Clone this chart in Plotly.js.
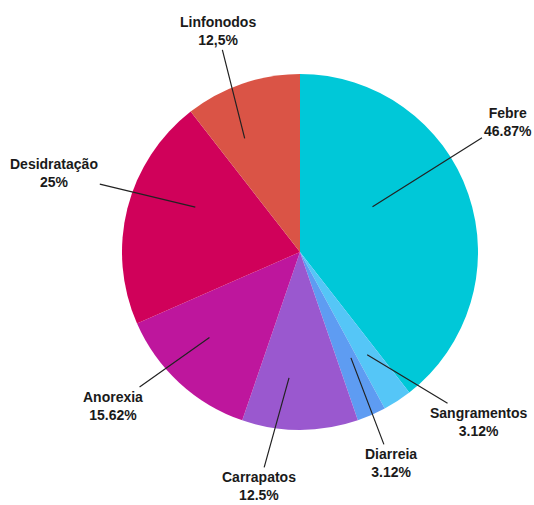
<!DOCTYPE html>
<html>
<head>
<meta charset="utf-8">
<script src="https://cdn.plot.ly/plotly-3.0.1.min.js"></script>
<style>html,body{margin:0;padding:0;background:#fff;}#chart{width:534px;height:505px;}</style>
</head>
<body>
<div id="chart"></div>
<script>
// Data
const categories = ["Febre", "Sangramentos", "Diarreia", "Carrapatos", "Anorexia", "Desidratação", "Linfonodos"];
const values = [46.87, 3.12, 3.12, 12.5, 15.62, 25, 12.5];
const valueLabels = ["46.87%", "3.12%", "3.12%", "12.5%", "15.62%", "25%", "12,5%"];

// Style
const colors = ["#00C8D8", "#55C6F7", "#5E9CF2", "#9A58CF", "#BE169D", "#D0015A", "#DA5446"];
const tipShift = [-13, 0, -2, 5, 4, 9, -7];      // degrees
const tipRadius = [0.48, 0.69, 0.66, 0.71, 0.70, 0.64, 0.71];
const labelOffset = [[135, -85], [111, 67], [40, 105], [-30, 108], [-96, 68], [-141, -34], [-27, -107]];

const total = values.reduce((a, b) => a + b, 0);
let cum = 0;
const annotations = categories.map((c, i) => {
  const mid = (cum + values[i] / 2) / total * 360 + tipShift[i];
  cum += values[i];
  const rad = mid * Math.PI / 180;
  return {
    xref: "paper", yref: "paper",
    x: 0.5 + 0.5 * tipRadius[i] * Math.sin(rad),
    y: 0.5 + 0.5 * tipRadius[i] * Math.cos(rad),
    text: "<b>" + c + "</b><br><b>" + valueLabels[i] + "</b>",
    showarrow: true, arrowhead: 0, arrowwidth: 1.2, arrowcolor: "#222",
    ax: labelOffset[i][0], ay: labelOffset[i][1],
    font: {family: "Liberation Sans, Arial, sans-serif", size: 14, color: "#1a1a1a"},
    align: "center"
  };
});

const trace = {
  type: "pie",
  labels: categories,
  values: values,
  sort: false,
  direction: "clockwise",
  rotation: 0,
  textinfo: "none",
  hoverinfo: "label+value",
  marker: {colors: colors, line: {width: 0}},
  domain: {x: [0, 1], y: [0, 1]}
};

const layout = {
  width: 534, height: 505,
  margin: {l: 122, r: 56, t: 74, b: 75},
  showlegend: false,
  paper_bgcolor: "#fff",
  plot_bgcolor: "#fff",
  annotations: annotations
};

Plotly.newPlot("chart", [trace], layout, {displayModeBar: false, staticPlot: true});
</script>
</body>
</html>
